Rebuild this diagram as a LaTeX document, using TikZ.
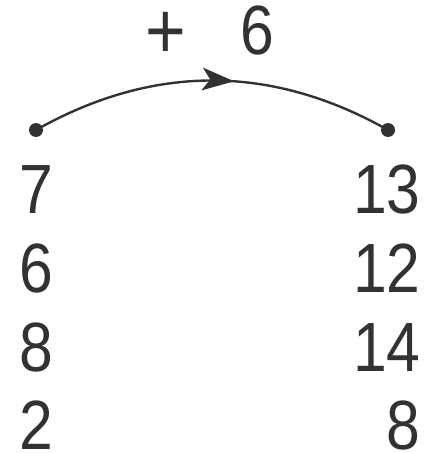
\documentclass[tikz,border=0pt]{standalone}
\usepackage{fontspec}
\setmainfont{Liberation Sans}
\newfontfamily\digitfont[FakeStretch=0.87]{Liberation Sans}
\usetikzlibrary{arrows.meta,decorations.markings}
\definecolor{ink}{RGB}{50,50,50}
\tikzset{
  num/.style={inner sep=0pt, text=ink, text depth=0pt, text height=38pt, font=\digitfont\fontsize{52.3pt}{58pt}\selectfont},
  dotnode/.style={circle, fill=ink, inner sep=0pt, minimum size=10.5pt},
  conn/.style={draw=ink, line width=1.8pt,
    postaction={decorate},
    decoration={markings, mark=at position 0.56 with {\arrow{Stealth[length=24pt,width=17pt,inset=6pt]}}}}
}
\begin{document}
\begin{tikzpicture}[x=0.75pt,y=-0.75pt]
\useasboundingbox (0,0) rectangle (425,453);
\node[dotnode] (a) at (36,130) {};
\node[dotnode] (b) at (388,130) {};
\path[conn] (a.center) .. controls +(117,-66) and +(-117,-66) .. (b.center);
\node[num, anchor=base west] (lbl) at (145.7,55) {{\fontsize{60pt}{60pt}\selectfont\raisebox{-3pt}{+}}\hspace{40.7pt}6};
\node[num, anchor=base west] (l1) at (19,213) {7};
\node[num, anchor=base west] (l2) at (19,292) {6};
\node[num, anchor=base west] (l3) at (19,371) {8};
\node[num, anchor=base west] (l4) at (19,449) {2};
\node[num, anchor=base east] (r1) at (421,213) {13};
\node[num, anchor=base east] (r2) at (421,292) {12};
\node[num, anchor=base east] (r3) at (421,371) {14};
\node[num, anchor=base east] (r4) at (421,449) {8};
\end{tikzpicture}
\end{document}
